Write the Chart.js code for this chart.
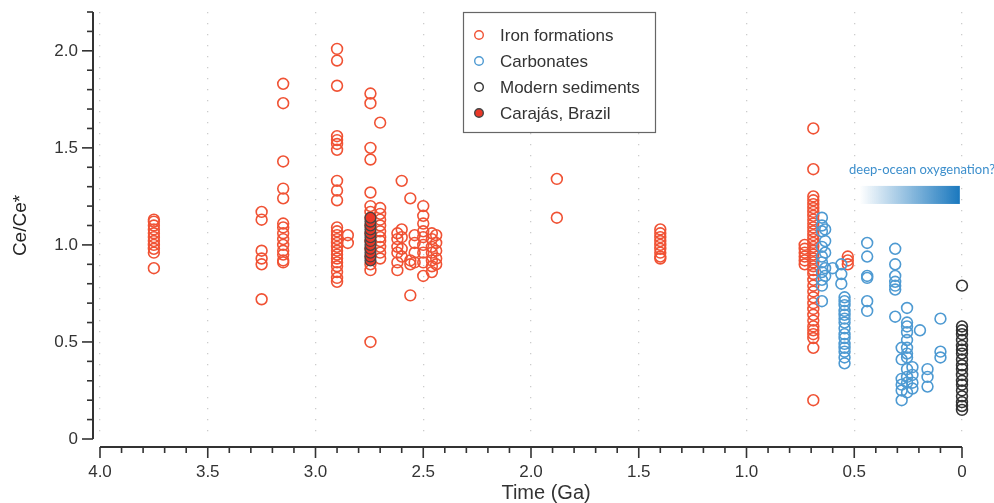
<!DOCTYPE html>
<html>
<head>
<meta charset="utf-8">
<script src="https://cdn.jsdelivr.net/npm/chart.js@4.4.1/dist/chart.umd.min.js"></script>
<style>
  html, body { margin: 0; padding: 0; background: #fff; }
  #wrap { width: 994px; height: 503px; }
</style>
</head>
<body>
<div id="wrap"><canvas id="myChart" width="994" height="503"></canvas></div>
<script>
// Ce anomaly through time
const ironAges = [3.75, 3.25, 3.15, 2.9, 2.85, 2.745, 2.7, 2.62, 2.6, 2.56, 2.54, 2.5, 2.46, 2.44, 1.88, 1.4, 0.73, 0.69, 0.53];
const ironCe = [
    [1.13, 1.12, 1.10, 1.08, 1.06, 1.04, 1.02, 1.00, 0.98, 0.96, 0.88],
    [1.17, 1.13, 0.97, 0.93, 0.90, 0.72],
    [1.83, 1.73, 1.43, 1.29, 1.24, 1.11, 1.09, 1.06, 1.03, 1.00, 0.97, 0.95, 0.92, 0.91],
    [2.01, 1.95, 1.82, 1.56, 1.54, 1.52, 1.49, 1.33, 1.28, 1.23, 1.09, 1.07, 1.05, 1.03, 1.01, 0.99, 0.97, 0.95, 0.93, 0.91, 0.89, 0.86, 0.83, 0.81],
    [1.05, 1.01],
    [1.78, 1.73, 1.50, 1.44, 1.27, 1.20, 1.17, 1.14, 1.10, 1.06, 1.02, 0.98, 0.94, 0.90, 0.87, 0.50],
    [1.63, 1.19, 1.16, 1.13, 1.10, 1.07, 1.04, 1.02, 0.99, 0.96, 0.93],
    [1.06, 1.03, 0.99, 0.96, 0.91, 0.87],
    [1.33, 1.08, 1.04, 0.98, 0.94],
    [1.24, 0.92, 0.90, 0.74],
    [1.05, 1.01, 0.96, 0.91],
    [1.20, 1.15, 1.11, 1.07, 1.04, 1.00, 0.96, 0.91, 0.84],
    [1.06, 1.03, 0.99, 0.96, 0.92, 0.89, 0.86],
    [1.05, 1.01, 0.97, 0.93, 0.90],
    [1.34, 1.14],
    [1.08, 1.06, 1.04, 1.02, 1.00, 0.98, 0.96, 0.94, 0.93],
    [1.00, 0.98, 0.96, 0.94, 0.92, 0.90],
    [1.60, 1.39, 1.25, 1.23, 1.21, 1.19, 1.17, 1.15, 1.13, 1.11, 1.09, 1.07, 1.05, 1.03, 1.01, 0.99, 0.97, 0.95, 0.93, 0.91, 0.89, 0.87, 0.85, 0.82, 0.79, 0.76, 0.73, 0.70, 0.67, 0.64, 0.61, 0.58, 0.56, 0.54, 0.52, 0.47, 0.20],
    [0.94, 0.92, 0.90]
];

const carbAges = [0.65, 0.635, 0.60, 0.56, 0.545, 0.44, 0.31, 0.28, 0.255, 0.23, 0.195, 0.16, 0.10];
const carbCe = [
    [1.14, 1.10, 1.07, 0.99, 0.94, 0.91, 0.86, 0.82, 0.79, 0.71],
    [1.08, 1.02, 0.96, 0.88, 0.84],
    [0.88],
    [0.90, 0.85, 0.80],
    [0.73, 0.71, 0.69, 0.66, 0.64, 0.62, 0.60, 0.57, 0.54, 0.52, 0.49, 0.47, 0.45, 0.42, 0.39],
    [1.01, 0.94, 0.84, 0.83, 0.71, 0.66],
    [0.98, 0.90, 0.84, 0.81, 0.79, 0.77, 0.63],
    [0.47, 0.41, 0.31, 0.28, 0.25, 0.20],
    [0.675, 0.60, 0.58, 0.55, 0.51, 0.47, 0.44, 0.42, 0.36, 0.32, 0.29, 0.24],
    [0.37, 0.33, 0.29, 0.26],
    [0.56],
    [0.36, 0.32, 0.27],
    [0.62, 0.45, 0.42]
];

const modernAges = [0];
const modernCe = [
    [0.79, 0.58, 0.56, 0.54, 0.51, 0.48, 0.46, 0.44, 0.41, 0.38, 0.36, 0.33, 0.30, 0.28, 0.25, 0.22, 0.19, 0.17, 0.15]
];

const carajasAges = [2.745];
const carajasCe = [
    [0.92, 0.94, 0.96, 0.98, 1.00, 1.02, 1.04, 1.06, 1.08, 1.10, 1.12, 1.14]
];

const seriesLabels = ['Iron formations', 'Carbonates', 'Modern sediments', 'Carajás, Brazil'];
const xTicks = [4.0, 3.5, 3.0, 2.5, 2.0, 1.5, 1.0, 0.5, 0];
const yTicks = [0, 0.5, 1.0, 1.5, 2.0];

// turn age groups into scatter points
function toPoints(ages, values) {
    const pts = [];
    ages.forEach((age, i) => {
        values[i].forEach(v => pts.push({ x: age, y: v }));
    });
    return pts;
}

const fmt = v => (v === 0 ? '0' : Number(v).toFixed(1));
const ink = '#333333';

Chart.defaults.font.family = "'Liberation Sans', Arial, Helvetica, sans-serif";

// axes drawn offset from the plot, plus legend box and annotation
const decorPlugin = {
    id: 'decor',
    beforeDatasetsDraw(chart) {
        const c = chart.ctx;
        const xs = chart.scales.x, ys = chart.scales.y;
        // annotation
        const gx0 = xs.getPixelForValue(0.475), gx1 = xs.getPixelForValue(0.01);
        const gy0 = ys.getPixelForValue(1.304), gy1 = ys.getPixelForValue(1.211);
        const grad = c.createLinearGradient(gx0, 0, gx1, 0);
        grad.addColorStop(0, 'rgba(26,120,190,0)');
        grad.addColorStop(1, 'rgba(26,120,190,1)');
        c.save();
        c.fillStyle = grad;
        c.fillRect(gx0, gy0, gx1 - gx0, gy1 - gy0);
        c.fillStyle = '#3d8fcc';
        c.font = "13px Lato, 'Open Sans', sans-serif";
        c.textBaseline = 'middle';
        c.textAlign = 'left';
        c.fillText('deep-ocean oxygenation?', xs.getPixelForValue(0.524), ys.getPixelForValue(1.387));
        c.restore();
    },
    afterDraw(chart) {
        const c = chart.ctx;
        const a = chart.chartArea;
        const xs = chart.scales.x, ys = chart.scales.y;
        c.save();
        c.strokeStyle = ink;
        c.lineWidth = 2;
        c.lineCap = 'butt';
        // y axis
        const ax = a.left - 7;
        c.beginPath();
        c.moveTo(ax, ys.getPixelForValue(2.2));
        c.lineTo(ax, ys.getPixelForValue(0));
        c.stroke();
        c.lineWidth = 1.6;
        for (let i = 0; i <= 22; i++) {
            const py = ys.getPixelForValue(i / 10);
            const len = i % 5 === 0 ? 11 : 6;
            c.beginPath();
            c.moveTo(ax - len, py);
            c.lineTo(ax, py);
            c.stroke();
        }
        // x axis
        const ay = a.bottom + 8;
        c.lineWidth = 2;
        c.beginPath();
        c.moveTo(xs.getPixelForValue(4), ay);
        c.lineTo(xs.getPixelForValue(0), ay);
        c.stroke();
        c.lineWidth = 1.6;
        for (let i = 0; i <= 40; i++) {
            const px = xs.getPixelForValue(i / 10);
            const len = i % 5 === 0 ? 11 : 6;
            c.beginPath();
            c.moveTo(px, ay);
            c.lineTo(px, ay + len);
            c.stroke();
        }
        // x title
        c.fillStyle = ink;
        c.font = "20px 'Liberation Sans', Arial, sans-serif";
        c.textAlign = 'center';
        c.textBaseline = 'middle';
        c.fillText('Time (Ga)', xs.getPixelForValue(1.93), a.bottom + 54);

        // legend
        const lx = 463, ly = 12, lw = 192, lh = 120;
        c.fillStyle = '#fff';
        c.fillRect(lx, ly, lw, lh);
        c.strokeStyle = '#666';
        c.lineWidth = 1.2;
        c.strokeRect(lx + 0.5, ly + 0.5, lw, lh);
        c.font = "17px 'Liberation Sans', Arial, sans-serif";
        c.textAlign = 'left';
        chart.data.datasets.forEach((ds, i) => {
            const cy = ly + 23 + i * 26;
            c.beginPath();
            c.arc(lx + 16, cy, 4.3, 0, Math.PI * 2);
            c.fillStyle = ds.backgroundColor;
            c.fill();
            c.lineWidth = 1.4;
            c.strokeStyle = ds.borderColor;
            c.stroke();
            c.fillStyle = ink;
            c.fillText(ds.label, lx + 37, cy + 1);
        });
        c.restore();
    }
};

const noPad = s => {
    s.paddingTop = 0;
    s.paddingBottom = 0;
    s.paddingLeft = 0;
    s.paddingRight = 0;
};

const ctx = document.getElementById('myChart').getContext('2d');
new Chart(ctx, {
    type: 'scatter',
    data: {
        datasets: [
            {
                label: seriesLabels[0],
                data: toPoints(ironAges, ironCe),
                borderColor: 'rgb(240,82,52)',
                backgroundColor: 'rgba(255,255,255,0)',
                order: 4
            },
            {
                label: seriesLabels[1],
                data: toPoints(carbAges, carbCe),
                borderColor: 'rgb(78,154,210)',
                backgroundColor: 'rgba(255,255,255,0)',
                order: 3
            },
            {
                label: seriesLabels[2],
                data: toPoints(modernAges, modernCe),
                borderColor: '#333333',
                backgroundColor: 'rgba(255,255,255,0)',
                order: 2
            },
            {
                label: seriesLabels[3],
                data: toPoints(carajasAges, carajasCe),
                borderColor: '#444444',
                backgroundColor: 'rgb(234,56,40)',
                borderWidth: 1.3,
                order: 1
            }
        ]
    },
    options: {
        responsive: false,
        animation: false,
        clip: false,
        elements: {
            point: { radius: 5.4, borderWidth: 1.6, hoverRadius: 5.4 }
        },
        layout: { autoPadding: false, padding: { top: 12, right: 32, left: 0, bottom: 0 } },
        plugins: {
            legend: { display: false },
            tooltip: { enabled: false }
        },
        scales: {
            x: {
                type: 'linear',
                reverse: true,
                min: 0,
                max: 4,
                afterFit: s => { s.height = 64; noPad(s); },
                afterBuildTicks: s => { s.ticks = xTicks.map(v => ({ value: v })); },
                ticks: {
                    padding: 23,
                    color: ink,
                    font: { size: 17 },
                    maxRotation: 0,
                    autoSkip: false,
                    callback: fmt
                },
                grid: { color: '#cccccc', lineWidth: 1.3, drawTicks: false },
                border: { display: false, dash: [1.3, 9.7] }
            },
            y: {
                min: 0,
                max: 2.2,
                afterFit: s => { s.width = 100; noPad(s); },
                afterBuildTicks: s => { s.ticks = yTicks.map(v => ({ value: v })); },
                ticks: {
                    padding: 22,
                    color: ink,
                    font: { size: 17 },
                    callback: fmt
                },
                grid: { display: false, drawTicks: false },
                border: { display: false },
                title: {
                    display: true,
                    text: 'Ce/Ce*',
                    color: '#222',
                    font: { size: 19 },
                    padding: { top: 9, bottom: 0 }
                }
            }
        }
    },
    plugins: [decorPlugin]
});
</script>
</body>
</html>
